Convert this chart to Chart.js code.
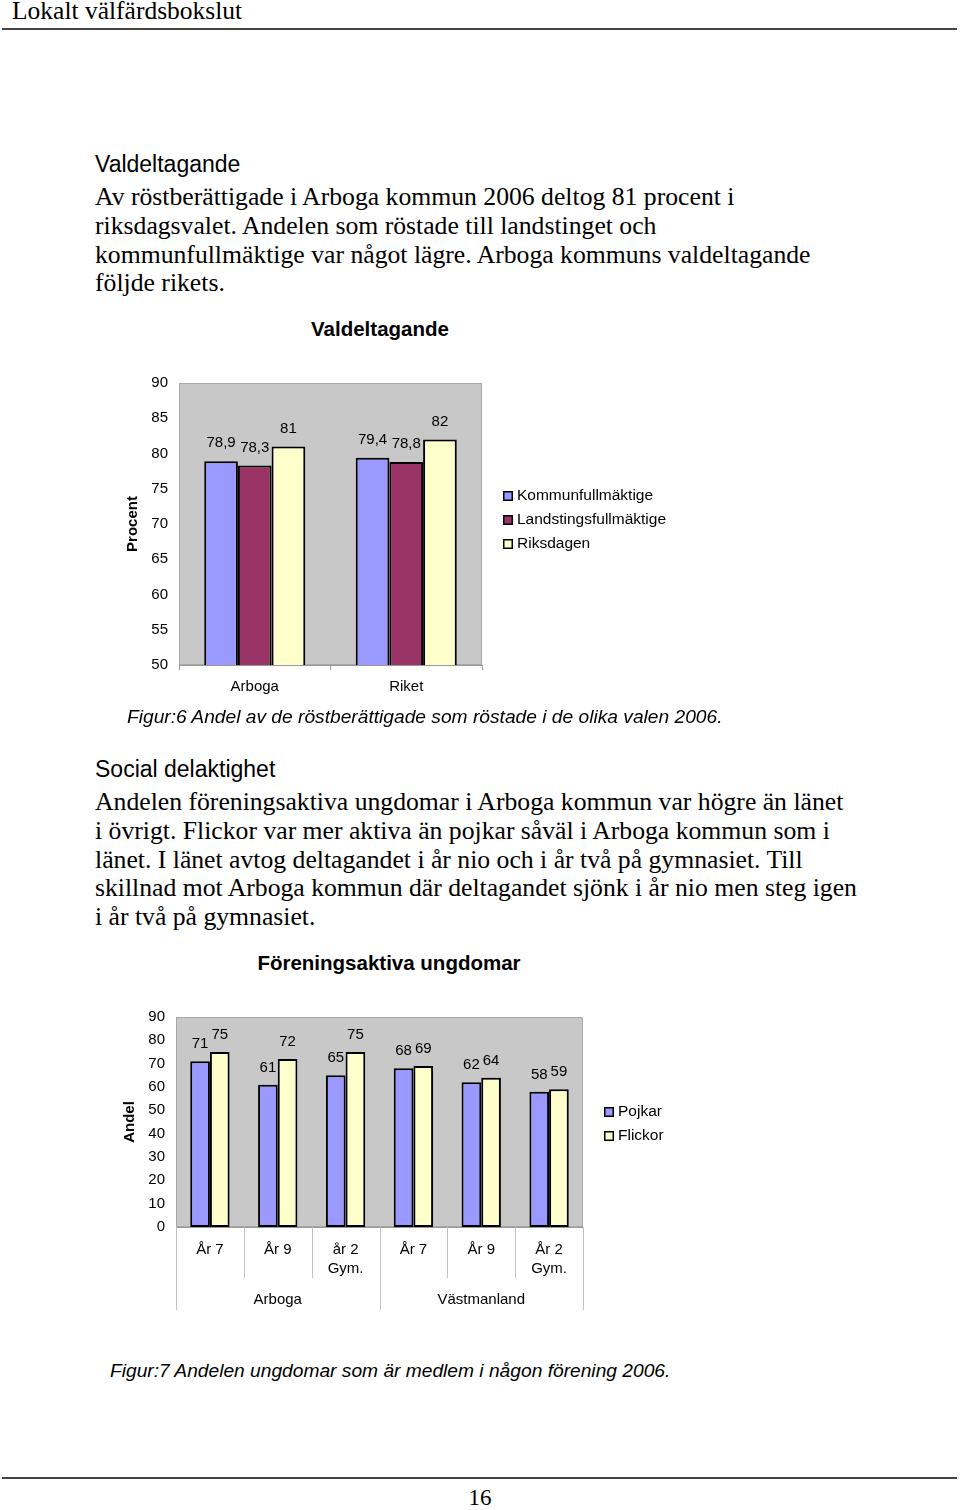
<!DOCTYPE html>
<html>
<head>
<meta charset="utf-8">
<script src="https://cdn.jsdelivr.net/npm/chart.js@4/dist/chart.umd.min.js"></script>
<style>
  body { margin: 0; width: 960px; height: 1510px; position: relative; background: #fff; color: #000; }
  .abs { position: absolute; white-space: nowrap; }
  .serif { font-family: 'Liberation Serif', 'Times New Roman', serif; }
  .sans { font-family: 'Liberation Sans', Arial, sans-serif; }
  .rule { position: absolute; left: 2px; width: 955px; height: 2px; background: #444; }
  .body-text { font-size: 25.7px; line-height: 28.8px; }
  .heading { font-size: 23px; line-height: 26px; }
  .caption { font-size: 19.2px; line-height: 22px; font-style: italic; }
  .chart-title { width: 400px; text-align: center; font-size: 20.5px; line-height: 24px; font-weight: bold; }
</style>
</head>
<body>

<div class="abs serif" style="left:12px;top:-2px;font-size:25.5px;line-height:26px;">Lokalt välfärdsbokslut</div>
<div class="rule" style="top:28px;"></div>

<div class="abs sans heading" style="left:95px;top:151px;">Valdeltagande</div>
<div class="abs serif body-text" style="left:95px;top:183px;">
  <div>Av röstberättigade i Arboga kommun 2006 deltog 81 procent i</div>
  <div>riksdagsvalet. Andelen som röstade till landstinget och</div>
  <div>kommunfullmäktige var något lägre. Arboga kommuns valdeltagande</div>
  <div>följde rikets.</div>
</div>

<div class="abs sans chart-title" style="left:180px;top:317px;">Valdeltagande</div>
<canvas id="valChart" class="abs" style="left:80px;top:300px;" width="600" height="420"></canvas>

<div class="abs sans caption" style="left:127px;top:706px;">Figur:6 Andel av de röstberättigade som röstade i de olika valen 2006.</div>

<div class="abs sans heading" style="left:95px;top:756px;">Social delaktighet</div>
<div class="abs serif body-text" style="left:95px;top:788px;">
  <div>Andelen föreningsaktiva ungdomar i Arboga kommun var högre än länet</div>
  <div>i övrigt. Flickor var mer aktiva än pojkar såväl i Arboga kommun som i</div>
  <div>länet. I länet avtog deltagandet i år nio och i år två på gymnasiet. Till</div>
  <div>skillnad mot Arboga kommun där deltagandet sjönk i år nio men steg igen</div>
  <div>i år två på gymnasiet.</div>
</div>

<div class="abs sans chart-title" style="left:189px;top:951px;">Föreningsaktiva ungdomar</div>
<canvas id="foreningChart" class="abs" style="left:89px;top:940px;" width="600" height="380"></canvas>

<div class="abs sans caption" style="left:110px;top:1360px;">Figur:7 Andelen ungdomar som är medlem i någon förening 2006.</div>

<div class="rule" style="top:1477px;"></div>
<div class="abs serif" style="left:0;width:960px;text-align:center;top:1485px;font-size:23px;line-height:26px;">16</div>

<script>
// Valdeltagande
const valCategories = ['Arboga', 'Riket'];
const kommunfullmaktige = [78.9, 79.4];
const landstingsfullmaktige = [78.3, 78.8];
const riksdagen = [81, 82];
const valTicks = { min: 50, max: 90, step: 5 };

// Föreningsaktiva ungdomar
const foreningCategories = [['År 7'], ['År 9'], ['år 2', 'Gym.'], ['År 7'], ['År 9'], ['År 2', 'Gym.']];
const foreningGroups = ['Arboga', 'Västmanland'];
const pojkar = [71, 61, 65, 68, 62, 58];
const flickor = [75, 72, 75, 69, 64, 59];
const foreningTicks = { min: 0, max: 90, step: 10 };

const BLUE = '#9999FF';
const MAROON = '#993366';
const CREAM = '#FFFFCC';
const LABEL_FONT = '15px "Liberation Sans", Arial, sans-serif';

Chart.defaults.font.family = "'Liberation Sans', Arial, sans-serif";
Chart.defaults.color = '#000';

// gray plot area like the old Excel charts
const plotBackground = {
  id: 'plotBackground',
  beforeDraw(chart, args, opts) {
    const a = chart.chartArea, ctx = chart.ctx;
    ctx.save();
    ctx.fillStyle = opts.color;
    ctx.fillRect(a.left, a.top, a.right - a.left, a.bottom - a.top);
    ctx.strokeStyle = opts.border;
    ctx.lineWidth = 1;
    ctx.strokeRect(a.left + 0.5, a.top + 0.5, a.right - a.left - 1, a.bottom - a.top - 1);
    ctx.restore();
  }
};

// value above every bar, decimal comma
const barValueLabels = {
  id: 'barValueLabels',
  afterDatasetsDraw(chart, args, opts) {
    const ctx = chart.ctx;
    ctx.save();
    ctx.font = opts.font;
    ctx.fillStyle = '#000';
    ctx.textAlign = 'center';
    ctx.textBaseline = 'middle';
    chart.data.datasets.forEach((ds, i) => {
      chart.getDatasetMeta(i).data.forEach((bar, j) => {
        ctx.fillText(String(ds.data[j]).replace('.', ','), bar.x, bar.y - opts.offset);
      });
    });
    ctx.restore();
  }
};

// legend to the right of the plot
const sideLegend = {
  id: 'sideLegend',
  afterDraw(chart, args, opts) {
    const ctx = chart.ctx;
    ctx.save();
    ctx.font = opts.font;
    ctx.textBaseline = 'middle';
    chart.data.datasets.forEach((ds, i) => {
      const y = opts.y + i * opts.gap;
      ctx.fillStyle = ds.backgroundColor;
      ctx.fillRect(opts.x, y - 5, 10, 10);
      ctx.strokeStyle = '#000';
      ctx.lineWidth = 1.5;
      ctx.strokeRect(opts.x + 0.75, y - 4.25, 8.5, 8.5);
      ctx.fillStyle = '#000';
      ctx.fillText(ds.label, opts.x + 14, y);
    });
    ctx.restore();
  }
};

// second level of the category axis (Arboga / Västmanland)
const groupAxis = {
  id: 'groupAxis',
  afterDraw(chart, args, opts) {
    const x = chart.scales.x, bottom = chart.chartArea.bottom, ctx = chart.ctx;
    const n = chart.data.labels.length, per = n / opts.groups.length;
    ctx.save();
    ctx.strokeStyle = opts.color;
    ctx.lineWidth = 1;
    for (let i = 0; i <= n; i++) {
      const px = Math.round(x.getPixelForValue(i - 0.5)) + 0.5;
      const len = i % per === 0 ? opts.outerLength : opts.innerLength;
      ctx.beginPath();
      ctx.moveTo(px, bottom);
      ctx.lineTo(px, bottom + len);
      ctx.stroke();
    }
    ctx.font = opts.font;
    ctx.fillStyle = '#000';
    ctx.textAlign = 'center';
    ctx.textBaseline = 'middle';
    opts.groups.forEach((g, k) => {
      const cx = x.getPixelForValue(k * per + (per - 1) / 2);
      ctx.fillText(g, cx, bottom + opts.labelOffset);
    });
    ctx.restore();
  }
};

function barSet(label, data, color, catPct) {
  return {
    label: label,
    data: data,
    backgroundColor: color,
    borderColor: '#000',
    borderWidth: 2,
    borderSkipped: false,
    categoryPercentage: catPct,
    barPercentage: 1
  };
}

// Chart 1
new Chart(document.getElementById('valChart'), {
  type: 'bar',
  data: {
    labels: valCategories,
    datasets: [
      barSet('Kommunfullmäktige', kommunfullmaktige, BLUE, 0.667),
      barSet('Landstingsfullmäktige', landstingsfullmaktige, MAROON, 0.667),
      barSet('Riksdagen', riksdagen, CREAM, 0.667)
    ]
  },
  options: {
    responsive: false,
    animation: false,
    layout: { padding: { left: 0, right: 198, top: 83, bottom: 0 } },
    plugins: {
      legend: { display: false },
      tooltip: { enabled: false },
      plotBackground: { color: '#C8C8C8', border: '#A8A8A8' },
      barValueLabels: { font: LABEL_FONT, offset: 18 },
      sideLegend: { x: 423, y: 196, gap: 24, font: '15.5px "Liberation Sans", Arial, sans-serif' }
    },
    scales: {
      x: {
        grid: { offset: true, drawOnChartArea: false, tickLength: 5, color: '#999' },
        border: { color: '#999' },
        ticks: { padding: 8, font: { size: 15 } },
        afterFit: s => { s.height = 55; }
      },
      y: {
        min: valTicks.min,
        max: valTicks.max,
        grid: { display: false, drawTicks: false },
        border: { display: false },
        ticks: { stepSize: valTicks.step, padding: 11, font: { size: 15 } },
        title: { display: true, text: 'Procent', font: { size: 15, weight: 'bold' }, padding: { top: 44, bottom: 0 } },
        afterFit: s => { s.width = 99; }
      }
    }
  },
  plugins: [plotBackground, barValueLabels, sideLegend]
});

// Chart 2
new Chart(document.getElementById('foreningChart'), {
  type: 'bar',
  data: {
    labels: foreningCategories,
    datasets: [
      barSet('Pojkar', pojkar, BLUE, 0.58),
      barSet('Flickor', flickor, CREAM, 0.58)
    ]
  },
  options: {
    responsive: false,
    animation: false,
    layout: { padding: { left: 0, right: 106, top: 77, bottom: 0 } },
    plugins: {
      legend: { display: false },
      tooltip: { enabled: false },
      plotBackground: { color: '#C8C8C8', border: '#A8A8A8' },
      barValueLabels: { font: LABEL_FONT, offset: 17 },
      sideLegend: { x: 515, y: 172, gap: 24, font: '15.5px "Liberation Sans", Arial, sans-serif' },
      groupAxis: {
        groups: foreningGroups,
        color: '#C0C0C0',
        innerLength: 51,
        outerLength: 83,
        labelOffset: 73,
        font: LABEL_FONT
      }
    },
    scales: {
      x: {
        grid: { display: false, drawTicks: false },
        border: { color: '#999' },
        ticks: { padding: 13, font: { size: 15, lineHeight: 1.3 } },
        afterFit: s => { s.height = 93; }
      },
      y: {
        min: foreningTicks.min,
        max: foreningTicks.max,
        grid: { display: false, drawTicks: false },
        border: { display: false },
        ticks: { stepSize: foreningTicks.step, padding: 11, font: { size: 15 } },
        title: { display: true, text: 'Andel', font: { size: 15, weight: 'bold' }, padding: { top: 32, bottom: 0 } },
        afterFit: s => { s.width = 87; }
      }
    }
  },
  plugins: [plotBackground, barValueLabels, sideLegend, groupAxis]
});
</script>
</body>
</html>
